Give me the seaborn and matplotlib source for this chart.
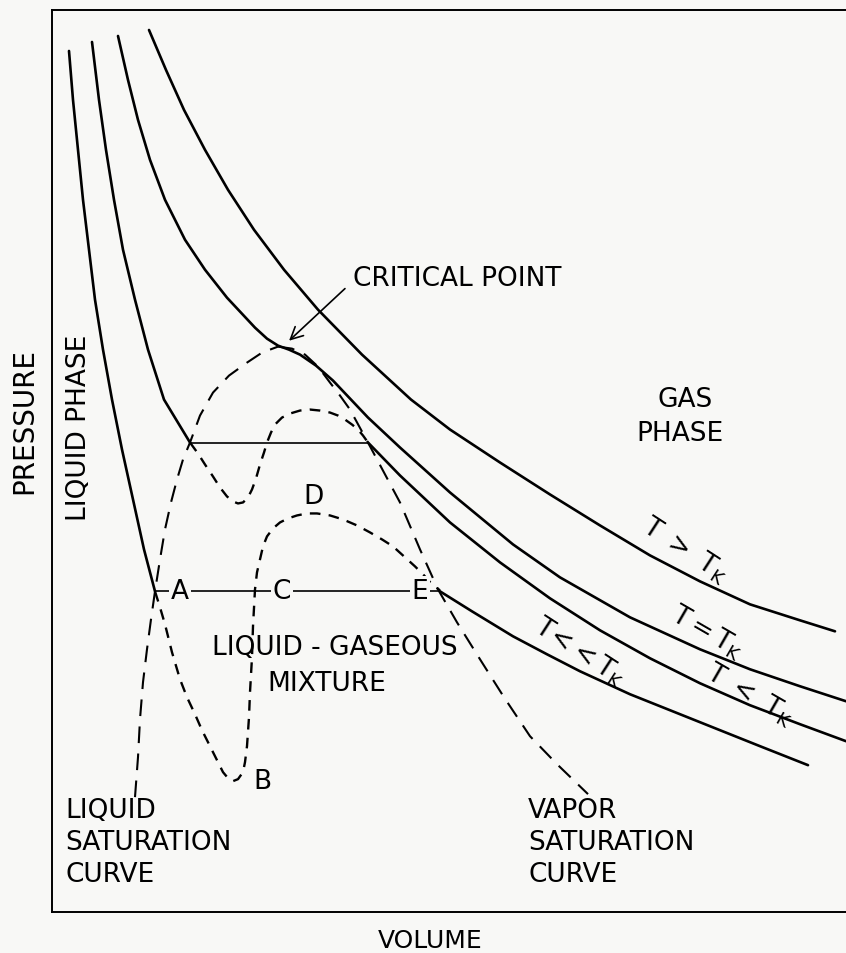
import matplotlib
matplotlib.use("Agg")
import matplotlib.pyplot as plt
import seaborn as sns

# ---- data (volume, pressure in arbitrary units) ----
# T << T_K isotherm (liquid branch, tie line A-E, gas branch)
iso_ll_v = [17, 21, 26, 31, 37, 43, 51, 60, 70, 81, 92, 103]
iso_ll_p = [862, 813, 763, 713, 663, 613, 563, 513, 463, 413, 363, 321]
tie_low_v = [103, 388]
tie_low_p = [321, 321]
iso_ll_gas_v = [388, 420, 461, 495, 528, 578, 648, 708, 756]
iso_ll_gas_p = [321, 301, 276, 258, 241, 218, 190, 166, 147]

# T < T_K isotherm
iso_l_v = [40, 47, 54, 62, 71, 83, 96, 112, 138]
iso_l_p = [871, 813, 763, 713, 663, 613, 563, 513, 470]
tie_high_v = [138, 316]
tie_high_p = [470, 470]
iso_l_gas_v = [316, 348, 398, 448, 498, 548, 598, 648, 698, 748, 794]
iso_l_gas_p = [470, 437, 390, 350, 314, 282, 254, 229, 207, 188, 171]

# T = T_K (critical) isotherm
iso_c_v = [66, 76, 86, 98, 113, 133, 153, 175, 203, 215, 226, 237, 248, 264,
           281, 316, 348, 398, 461, 508, 578, 648, 698, 748, 794]
iso_c_p = [877, 833, 793, 753, 713, 673, 643, 615, 585, 574, 567, 563, 558,
           547, 532, 495, 465, 420, 368, 335, 295, 263, 243, 226, 211]

# T > T_K isotherm
iso_h_v = [97, 114, 132, 153, 176, 202, 232, 266, 310, 359, 398, 448,
           498, 548, 598, 648, 698, 748, 783]
iso_h_p = [883, 843, 803, 763, 723, 683, 643, 603, 558, 513, 483, 450,
           418, 387, 357, 331, 308, 292, 281]

# saturation curves
liq_sat_v = [83, 86, 88, 91, 95, 99, 103, 108, 113, 119, 125, 131, 138, 148,
             161, 177, 195, 210, 226]
liq_sat_p = [115, 155, 193, 230, 263, 293, 321, 353, 383, 410, 433, 453, 470,
             497, 520, 537, 550, 560, 566]
vap_sat_v = [226, 240, 253, 266, 278, 288, 298, 316, 332, 348, 368, 386, 405,
             428, 452, 478, 505, 536]
vap_sat_p = [566, 564, 558, 546, 530, 517, 503, 470, 440, 410, 363, 323, 290,
             253, 215, 176, 148, 118]

# van der Waals loops
loop_high_v = [138, 146, 153, 161, 168, 175, 181, 186, 191, 196, 200, 204, 208,
               212, 215, 219, 223, 230, 238, 248, 258, 268, 278, 286, 293, 300,
               306, 311, 316]
loop_high_p = [470, 459, 448, 436, 425, 416, 411, 409, 410, 415, 423, 434, 448,
               460, 470, 480, 488, 495, 499, 502, 503, 502, 500, 497, 493, 488,
               483, 477, 470]
loop_low_v = [103, 108, 113, 120, 128, 135, 143, 150, 158, 165, 171, 176, 181,
              186, 191, 193, 195, 197, 198, 200, 201, 203, 205, 208, 211, 215,
              221, 228, 236, 245, 255, 265, 278, 291, 305, 318, 330, 341, 352,
              363, 372, 380, 388]
loop_low_p = [321, 305, 288, 260, 233, 215, 198, 182, 166, 152, 140, 134, 131,
              133, 140, 150, 166, 195, 220, 255, 286, 323, 340, 353, 366, 376,
              384, 390, 394, 397, 399, 399, 397, 393, 387, 380, 373, 366, 356,
              346, 337, 328, 322]

bg = "#f8f8f6"
sns.set_style("white")
plt.rcParams["font.family"] = ["DejaVu Sans"]

fig = plt.figure(figsize=(8.46, 9.54), dpi=100, facecolor=bg)
ax = fig.add_axes([52 / 846, 41 / 954, 1 - 52 / 846, (954 - 11 - 41) / 954])
ax.set_facecolor(bg)


def draw(v, p, lw=1.9, ls="-"):
    sns.lineplot(x=v, y=p, ax=ax, sort=False, estimator=None, color="black",
                 linewidth=lw, linestyle=ls, legend=False)


for v, p in [(iso_ll_v, iso_ll_p), (iso_ll_gas_v, iso_ll_gas_p),
             (iso_l_v, iso_l_p), (iso_l_gas_v, iso_l_gas_p),
             (iso_c_v, iso_c_p), (iso_h_v, iso_h_p)]:
    draw(v, p)
draw(tie_low_v, tie_low_p, lw=1.2)
draw(tie_high_v, tie_high_p, lw=1.2)
draw(liq_sat_v, liq_sat_p, lw=1.5, ls=(0, (8, 5)))
draw(vap_sat_v, vap_sat_p, lw=1.5, ls=(0, (8, 5)))
draw(loop_high_v, loop_high_p, lw=1.7, ls=(0, (4.5, 3.5)))
draw(loop_low_v, loop_low_p, lw=1.7, ls=(0, (4.5, 3.5)))

ax.set_xlim(0, 794)
ax.set_ylim(0, 903)
ax.set_xticks([])
ax.set_yticks([])
for s in ["left", "top", "bottom"]:
    ax.spines[s].set_linewidth(1.4)
    ax.spines[s].set_color("black")
ax.spines["right"].set_visible(False)

fs = 19
ax.set_xlabel("VOLUME", fontsize=18, color="black")
ax.xaxis.set_label_coords(0.476, -0.018)
ax.set_ylabel("PRESSURE", fontsize=20, color="black")
ax.yaxis.set_label_coords(-0.017, 0.546)

txt = dict(fontsize=fs, color="black")
ax.text(301, 635, "CRITICAL POINT", ha="left", va="center", **txt)
ax.annotate("", xy=(235, 570), xytext=(295, 626),
            arrowprops=dict(arrowstyle="->", lw=1.2, color="black", mutation_scale=22))
ax.text(633, 514, "GAS", ha="center", va="center", **txt)
ax.text(628, 480, "PHASE", ha="center", va="center", **txt)
ax.text(27, 486, "LIQUID PHASE", ha="center", va="center", rotation=90, **txt)
ax.text(283, 265, "LIQUID - GASEOUS", ha="center", va="center", **txt)
ax.text(275, 229, "MIXTURE", ha="center", va="center", **txt)
for lab, x, y in [("A", 128, 321), ("C", 230, 321), ("E", 368, 321)]:
    ax.text(x, y, lab, ha="center", va="center",
            bbox=dict(facecolor=bg, edgecolor="none", pad=1.5), **txt)
ax.text(210, 131, "B", ha="center", va="center", **txt)
ax.text(261, 416, "D", ha="center", va="center", **txt)
ax.text(13, 70, "LIQUID\nSATURATION\nCURVE", ha="left", va="center",
        linespacing=1.3, **txt)
ax.text(476, 70, "VAPOR\nSATURATION\nCURVE", ha="left", va="center",
        linespacing=1.3, **txt)

tk = dict(fontsize=19, color="black", ha="center", va="center", rotation_mode="anchor")
ax.text(633, 363, r"$\mathregular{T\ >\ T_K}$", rotation=-33, **tk)
ax.text(656, 281, r"$\mathregular{T=T_K}$", rotation=-30, **tk)
ax.text(528, 261, r"$\mathregular{T\!<\!<T_K}$", rotation=-33, **tk)
ax.text(698, 218, r"$\mathregular{T\ <\ T_K}$", rotation=-30, **tk)

fig.savefig("out.png", dpi=100, facecolor=bg)
